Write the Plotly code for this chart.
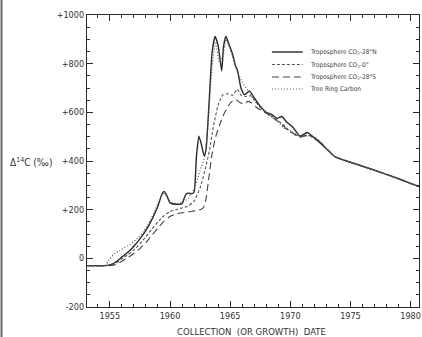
import plotly.graph_objects as go

# ---- data ----
n28_year = [1953.1, 1954.5, 1955.0, 1955.5, 1956.0, 1956.5, 1957.0, 1957.5, 1958.0, 1958.5,
            1959.0, 1959.3, 1959.5, 1959.7, 1960.0, 1960.5, 1961.0, 1961.3, 1961.5, 1961.8,
            1962.0, 1962.2, 1962.4, 1962.6, 1962.85, 1963.0, 1963.25, 1963.5, 1963.75, 1964.0,
            1964.3, 1964.45, 1964.65, 1964.9, 1965.2, 1965.45, 1965.6, 1965.9, 1966.2, 1966.6,
            1967.0, 1967.5, 1968.0, 1968.5, 1968.9, 1969.3, 1969.7, 1970.2, 1970.8, 1971.4,
            1972.0, 1972.8, 1973.7, 1975.0, 1977.0, 1979.0, 1980.0, 1980.7]
n28_val = [-30, -30, -27, -15, 5, 25, 50, 80, 115, 160,
           215, 260, 275, 262, 228, 222, 225, 262, 268, 265,
           272, 420, 502, 470, 420, 450, 640, 846, 912, 875,
           770, 870, 913, 880, 840, 790, 775, 700, 672, 688,
           660, 625, 600, 590, 575, 583, 560, 540, 502, 517,
           495, 460, 418, 395, 362, 327, 308, 295]

eq_year = [1953.1, 1954.8, 1955.5, 1956.0, 1956.5, 1957.0, 1957.5, 1958.0, 1958.5, 1959.0,
           1959.5, 1960.0, 1960.5, 1961.0, 1961.5, 1962.0, 1962.5, 1963.0, 1963.3, 1963.6,
           1964.0, 1964.4, 1964.8, 1965.2, 1965.6, 1965.9, 1966.3, 1966.7, 1967.0, 1967.5,
           1968.0, 1968.5, 1969.0, 1969.5, 1970.0, 1970.8, 1971.5, 1972.2, 1973.0, 1973.7,
           1975.0, 1977.0, 1979.0, 1980.0, 1980.7]
eq_val = [-30, -30, -20, -2, 15, 35, 60, 90, 120, 150,
          175, 192, 200, 207, 215, 235, 290, 380, 450, 540,
          630, 672, 676, 670, 695, 670, 665, 668, 650, 622,
          600, 582, 565, 545, 520, 500, 505, 492, 452, 418,
          395, 362, 327, 308, 295]

s28_year = [1953.1, 1955.0, 1955.5, 1956.0, 1956.5, 1957.0, 1957.5, 1958.0, 1958.5, 1959.0,
            1959.5, 1960.0, 1960.5, 1961.0, 1961.5, 1962.0, 1962.5, 1962.8, 1963.0, 1963.2,
            1963.5, 1963.8, 1964.1, 1964.5, 1964.9, 1965.2, 1965.5, 1965.8, 1966.1, 1966.5,
            1966.8, 1967.2, 1967.7, 1968.2, 1968.7, 1969.2, 1969.7, 1970.2, 1970.8, 1971.5,
            1972.2, 1973.0, 1973.7, 1975.0, 1977.0, 1979.0, 1980.0, 1980.7]
s28_val = [-30, -30, -25, -12, 3, 20, 40, 65, 95, 125,
           152, 172, 182, 187, 190, 195, 200, 210, 245, 320,
           430, 500, 545, 595, 630, 647, 652, 640, 635, 645,
           638, 620, 605, 590, 572, 555, 530, 515, 497, 508,
           490, 452, 418, 395, 362, 327, 308, 295]

tree_year = [1953.1, 1954.6, 1954.9, 1955.3, 1955.8, 1956.5, 1957.2, 1957.8, 1958.4, 1959.0,
             1959.4, 1959.6, 1960.0, 1960.5, 1961.0, 1961.5, 1962.0, 1962.5, 1962.9, 1963.2,
             1963.5, 1963.8, 1964.1, 1964.4, 1964.65, 1965.0, 1965.5, 1966.0, 1966.6, 1967.0,
             1967.5, 1968.0, 1968.5, 1969.0, 1969.5, 1970.0, 1970.8, 1971.5, 1972.2, 1973.0,
             1973.7, 1975.0, 1977.0, 1979.0, 1980.0, 1980.7]
tree_val = [-30, -30, -10, 15, 32, 52, 78, 110, 160, 225,
            268, 262, 235, 225, 230, 245, 285, 360, 420, 580,
            790, 890, 805, 830, 900, 860, 780, 725, 680, 650,
            620, 598, 580, 560, 535, 525, 500, 505, 485, 450,
            418, 395, 362, 327, 308, 295]

series_names = ["Troposphere CO<sub>2</sub>-28°N", "Troposphere CO<sub>2</sub>-0°",
                "Troposphere CO<sub>2</sub>-28°S", "Tree Ring Carbon"]

y_tickvals = [-200, 0, 200, 400, 600, 800, 1000]
y_ticktext = ["-200", "0", "+200", "+400", "+600", "+800", "+1000"]
x_tickvals = [1955, 1960, 1965, 1970, 1975, 1980]
x_ticktext = ["1955", "1960", "1965", "1970", "1975", "1980"]

FONT = "DejaVu Sans Condensed, Liberation Sans Narrow, sans-serif"
INK = "#2a2a2a"

line_styles = [
    dict(color=INK, width=1.4, dash="solid"),
    dict(color="#555", width=1.1, dash="3px,2px"),
    dict(color="#444", width=1.1, dash="7px,4px"),
    dict(color="#555", width=1.2, dash="1px,2px"),
]
series = [(n28_year, n28_val), (eq_year, eq_val), (s28_year, s28_val), (tree_year, tree_val)]

fig = go.Figure()
for (xs, ys), ln, name in zip(series, line_styles, series_names):
    fig.add_trace(go.Scatter(x=xs, y=ys, mode="lines", name=name, showlegend=False,
                             line=dict(shape="spline", smoothing=0.5, **ln)))

W, H = 422, 337
L, R, T, B = 87, 1, 15, 30
pw, ph = W - L - R, H - T - B

def px_x(p):
    return (p - L) / pw

def px_y(p):
    return 1 - (p - T) / ph

# legend drawn as key lines + labels (layout positions)
legend_rows = [52, 64.5, 77, 89]
shapes = [
    dict(type="rect", xref="paper", yref="paper", x0=px_x(0), x1=px_x(2),
         y0=px_y(H), y1=px_y(0), fillcolor="#666", line=dict(width=0), layer="above"),
]
annotations = [
    dict(text="Δ<sup>14</sup>C (‰)", x=px_x(31), y=px_y(162), xref="paper", yref="paper",
         showarrow=False, xanchor="center", yanchor="middle",
         font=dict(family=FONT, size=10, color="#333")),
    dict(text="COLLECTION  (OR GROWTH)  DATE", x=px_x(252), y=px_y(331.5), xref="paper",
         yref="paper", showarrow=False, xanchor="center", yanchor="middle",
         font=dict(family=FONT, size=9.5, color="#333")),
]
for row, ln, name in zip(legend_rows, line_styles, series_names):
    shapes.append(dict(type="line", xref="paper", yref="paper", x0=px_x(273), x1=px_x(304),
                       y0=px_y(row), y1=px_y(row), line=ln))
    annotations.append(dict(text=name, x=px_x(309), y=px_y(row), xref="paper", yref="paper",
                            showarrow=False, xanchor="left", yanchor="middle",
                            font=dict(family=FONT, size=6.5, color="#444")))

axis_common = dict(showgrid=False, zeroline=False, showline=True, linecolor=INK, linewidth=1.3,
                   ticks="inside", tickcolor=INK, mirror="allticks", ticklabeloverflow="allow",
                   tickfont=dict(family=FONT, size=9, color="#333"))

fig.update_layout(
    width=W, height=H,
    margin=dict(l=L, r=R, t=T, b=B),
    paper_bgcolor="white", plot_bgcolor="white",
    xaxis=dict(range=[1953.1, 1980.7], tickvals=x_tickvals, ticktext=x_ticktext, ticklen=6,
               tickwidth=1.2,
               minor=dict(dtick=1, tick0=1950, ticklen=3, ticks="inside", tickcolor=INK),
               **axis_common),
    yaxis=dict(range=[-200, 1000], tickvals=y_tickvals, ticktext=y_ticktext, ticklen=6,
               tickwidth=1.2,
               minor=dict(dtick=50, tick0=0, ticklen=3, ticks="inside", tickcolor=INK),
               **axis_common),
    annotations=annotations,
    shapes=shapes,
)

fig.write_html("out.html", config={"displayModeBar": False},
               post_script="document.body.style.margin='0px';")
